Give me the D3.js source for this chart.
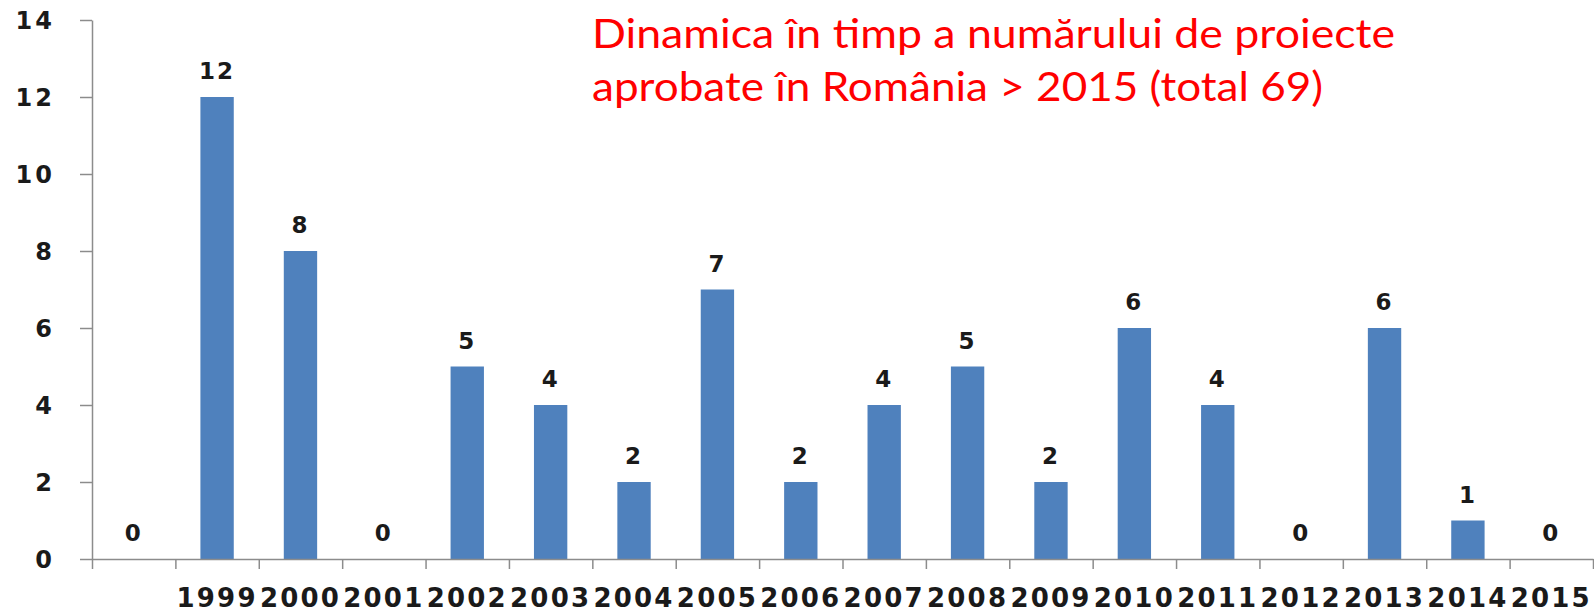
<!DOCTYPE html>
<html>
<head>
<meta charset="utf-8">
<style>
    body { margin: 0; background: #fff; }
    svg { display: block; }
    .axis text { font-family: "DejaVu Sans", Verdana, sans-serif; font-weight: bold; fill: #1a1a1a; }
    .axis path, .axis line { stroke: #8c8c8c; stroke-width: 1.5; }
    .val { font-family: "DejaVu Sans", Verdana, sans-serif; font-weight: bold; font-size: 23px; fill: #1a1a1a; }
    .title { font-family: Lato, "Open Sans", sans-serif; font-size: 40px; fill: #ff0000; }
</style>
<script src="https://cdn.jsdelivr.net/npm/d3@7"></script>
</head>
<body>
<svg id="chart" width="1594" height="614"></svg>
<script>
    // categories (first slot has no year label in the original)
    let years = ["", "1999", "2000", "2001", "2002", "2003", "2004", "2005", "2006",
                 "2007", "2008", "2009", "2010", "2011", "2012", "2013", "2014", "2015"]
    let projects = [0, 12, 8, 0, 5, 4, 2, 7, 2, 4, 5, 2, 6, 4, 0, 6, 1, 0]
    let yTicks = [0, 2, 4, 6, 8, 10, 12, 14]
    let titleLines = ["Dinamica în timp a numărului de proiecte",
                      "aprobate în România > 2015 (total 69)"]

    let svg = d3.select("#chart")
    let plotLeft = 92, plotRight = 1593, plotTop = 20, plotBottom = 559

    let data = years.map((y, i) => ({ key: i, label: y, value: projects[i] }))

    let x = d3.scaleBand()
        .domain(data.map(d => d.key))
        .range([plotLeft, plotRight])
        .paddingInner(0.6)
        .paddingOuter(0.3)

    let xEdges = d3.scaleLinear()
        .domain([0, years.length])
        .range([plotLeft, plotRight])

    let y = d3.scaleLinear()
        .domain([0, 14])
        .range([plotBottom, plotTop])

    // bars
    svg.selectAll(".bar")
        .data(data)
        .enter()
        .append("rect")
        .attr("class", "bar")
        .attr("x", d => x(d.key))
        .attr("width", x.bandwidth())
        .attr("y", d => y(d.value))
        .attr("height", d => y(0) - y(d.value))
        .attr("fill", "#4f81bd")

    // value labels
    svg.selectAll(".val")
        .data(data)
        .enter()
        .append("text")
        .attr("class", "val")
        .attr("text-anchor", "middle")
        .attr("x", d => x(d.key) + x.bandwidth() / 2)
        .attr("y", d => y(d.value) - 18)
        .style("letter-spacing", "2px")
        .text(d => d.value)

    // y axis
    let yAxis = svg.append("g")
        .attr("class", "axis")
        .attr("transform", "translate(" + plotLeft + ",0)")
        .call(d3.axisLeft(y).tickValues(yTicks).tickSize(12).tickSizeOuter(0).tickPadding(25))
    yAxis.selectAll("text")
        .style("font-size", "24px")
        .style("letter-spacing", "3px")
        .attr("dy", "0.36em")

    // x axis tick marks at category boundaries
    svg.append("g")
        .attr("class", "axis")
        .attr("transform", "translate(0," + plotBottom + ")")
        .call(d3.axisBottom(xEdges).tickValues(d3.range(years.length + 1)).tickFormat("").tickSize(10).tickSizeOuter(0))

    // x axis labels
    let xAxis = svg.append("g")
        .attr("class", "axis")
        .attr("transform", "translate(0," + plotBottom + ")")
        .call(d3.axisBottom(x).tickFormat(k => years[k]).tickSize(0))
    xAxis.select(".domain").remove()
    xAxis.selectAll("text")
        .style("font-size", "26px")
        .style("letter-spacing", "2.2px")
        .attr("y", 48)
        .attr("dy", 0)

    // title
    let titleWidths = [803, 731]
    svg.selectAll(".title")
        .data(titleLines)
        .enter()
        .append("text")
        .attr("class", "title")
        .attr("x", 592)
        .attr("y", (d, i) => 48 + i * 53)
        .attr("textLength", (d, i) => titleWidths[i])
        .attr("lengthAdjust", "spacingAndGlyphs")
        .text(d => d)
</script>
</body>
</html>
